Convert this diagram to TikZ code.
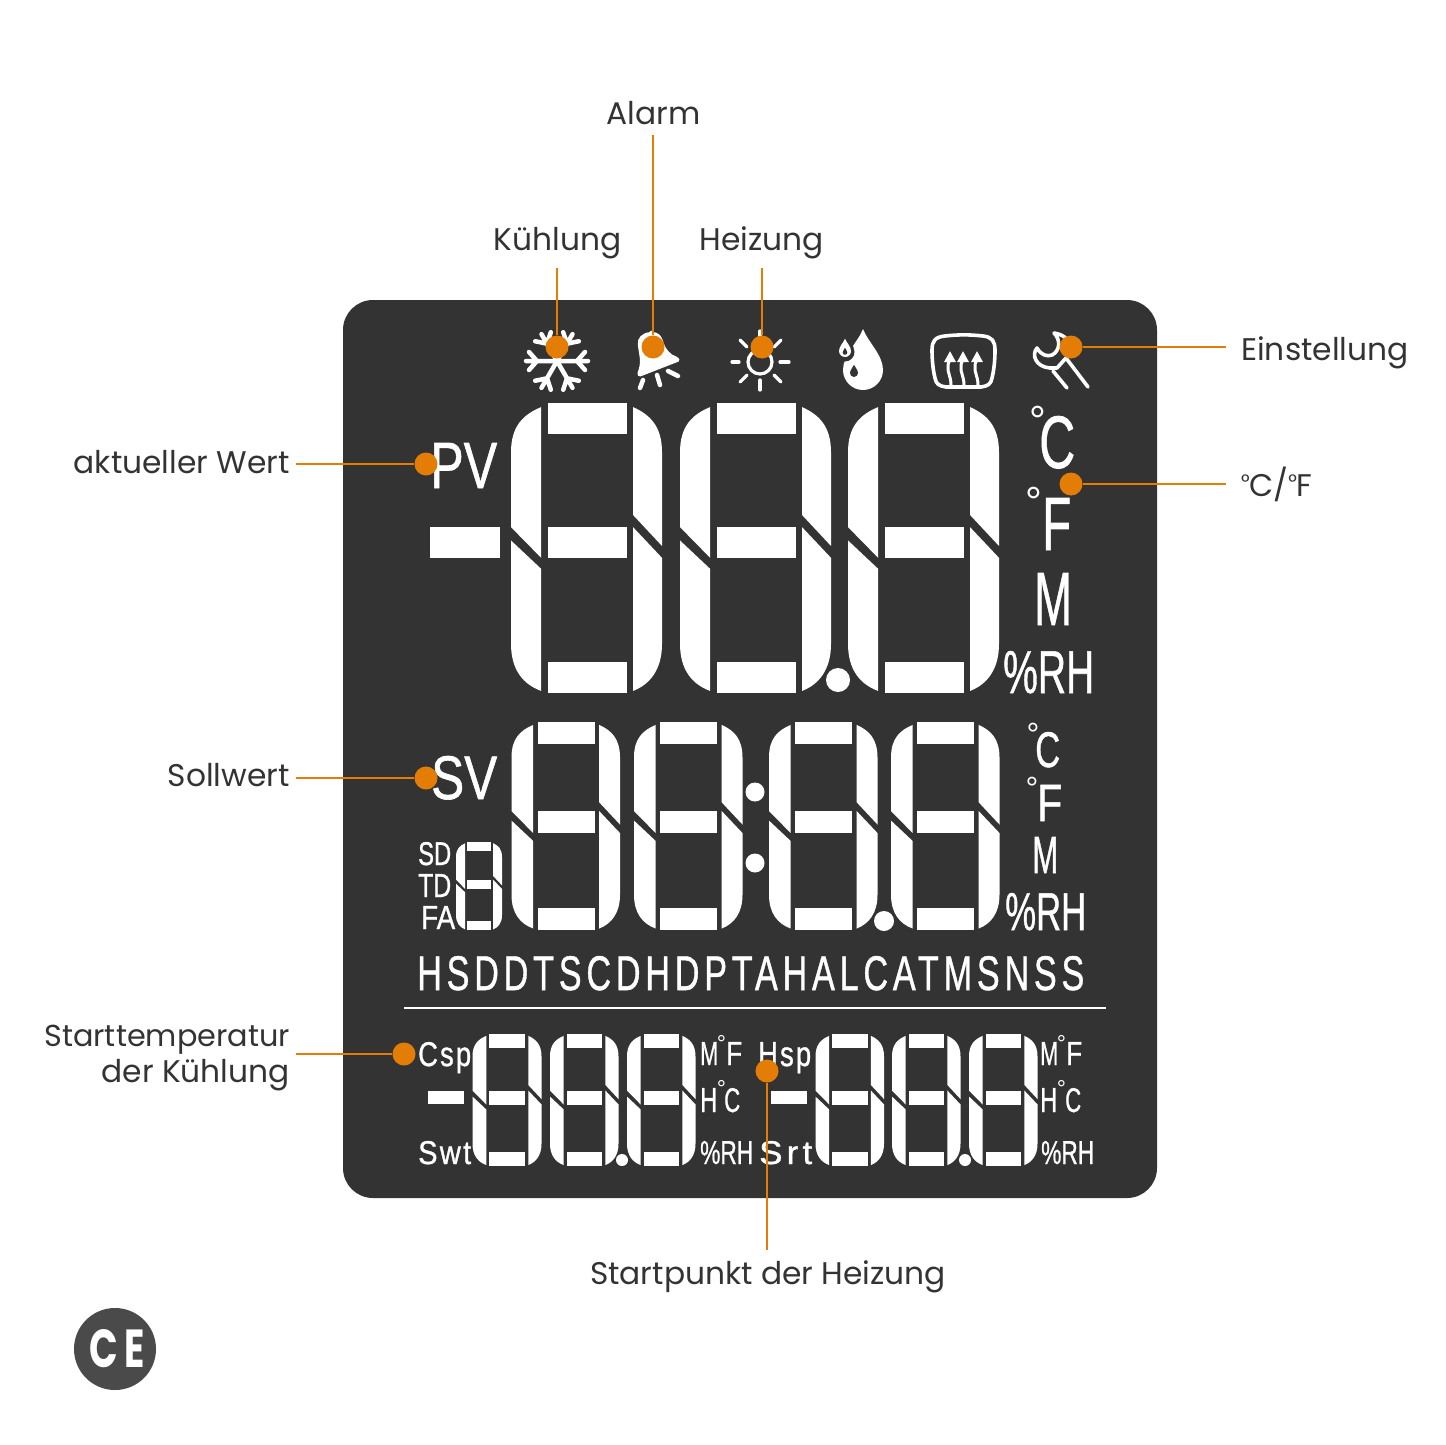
\documentclass[tikz,border=0pt]{standalone}
\usepackage{graphicx}
\usepackage{fontspec}
\usetikzlibrary{arrows.meta,calc,positioning}
\setmainfont{Poppins}
\setsansfont{Liberation Sans}
\definecolor{PanelGray}{HTML}{333333}
\definecolor{CalloutOrange}{HTML}{E37D05}
\definecolor{BadgeGray}{HTML}{4A4A4A}
\newcommand{\lcdtext}[3]{\resizebox{#1pt}{#2pt}{\sffamily\addfontfeature{FakeBold=1}#3}}
\newcommand{\tightdeg}{\raisebox{6.5pt}{\fontsize{21}{21}\selectfont °}\kern-.6pt}
\newcommand{\lcddigit}[4]{%
  \begin{scope}[shift={(#1,#2)},x=#3pt,y=-#4pt]
    \fill[white] (.242,0) rectangle (.765,.107);
    \fill[white] (.242,.428) rectangle (.765,.534);
    \fill[white] (.242,.893) rectangle (.765,1);
    \fill[white] (.2,.014) .. controls (.08,.04) and (0,.08) .. (0,.17) -- (0,.428) -- (.2,.534) -- cycle;
    \fill[white] (0,.474) -- (.2,.572) -- (.2,.993) .. controls (.08,.97) and (0,.92) .. (0,.83) -- cycle;
    \fill[white] (.808,.014) .. controls (.92,.04) and (1,.08) .. (1,.17) -- (1,.493) -- (.808,.386) -- cycle;
    \fill[white] (.808,.428) -- (1,.534) -- (1,.83) .. controls (1,.92) and (.92,.97) .. (.808,.993) -- cycle;
  \end{scope}}
\newcommand{\flakearm}[1]{%
  \draw[iconline,rotate around={#1:(557,361)}] (557,361) -- (588,361) (577,361) -- (585,352) (577,361) -- (585,370);}
\newcommand{\teardrop}[4]{%
  \fill[#4,shift={(#1,#2)},scale=#3] (0,-2.05) .. controls (.25,-1.4) and (1,-.75) .. (1,0) .. controls (1,.55) and (.55,1) .. (0,1) .. controls (-.55,1) and (-1,.55) .. (-1,0) .. controls (-1,-.75) and (-.25,-1.4) .. cycle;}
\tikzset{
  callout/.style={font=\fontsize{31.3}{36}\selectfont,text=PanelGray,inner xsep=6pt,inner ysep=4pt,text height=22pt,text depth=6pt},
  marker/.style={circle,fill=CalloutOrange,inner sep=0pt,minimum size=23pt},
  leader/.style={CalloutOrange,line width=1.5pt},
  lcd/.style={white,anchor=base west,inner sep=0pt},
  ringbig/.style={white,anchor=base,inner sep=0pt,font=\sffamily\fontsize{42}{42}\selectfont},
  ringmid/.style={white,anchor=base,inner sep=0pt,font=\sffamily\fontsize{32}{32}\selectfont},
  ringsmall/.style={white,anchor=base,inner sep=0pt,font=\sffamily\fontsize{23}{23}\selectfont},
  iconline/.style={white,line width=4.5pt,line cap=round,line join=round},
  thinicon/.style={white,line width=3.2pt,line cap=round,line join=round}
}
\begin{document}
\begin{tikzpicture}[x=1pt,y=-1pt]
  \useasboundingbox (0,0) rectangle (1445,1445);
  \fill[PanelGray,rounded corners=30pt] (343,300) rectangle (1157,1198);

  % icon row
  \flakearm{0} \flakearm{60} \flakearm{120} \flakearm{180} \flakearm{240} \flakearm{300}
  \fill[white,rounded corners=1.5pt] (651,332) .. controls (642,333) and (637,338) .. (638,346) .. controls (639,355) and (642,362) .. (637,374) -- (639,377) -- (680,361) -- (678,357) .. controls (670,355) and (665,348) .. (663,341) .. controls (661,335) and (657,332) .. cycle;
  \draw[iconline] (643,380) -- (640,388) (657,375) -- (660,385) (668,371) -- (678,376);
  \draw[thinicon] (760,362) circle (12);
  \draw[thinicon] (732,362) -- (739,362) (780,362) -- (789,362) (760,380) -- (760,390) (760,331) -- (760,343);
  \draw[thinicon] (740,340) -- (747,347) (781,340) -- (774,347) (740,382) -- (747,375) (781,382) -- (774,375);
  \teardrop{863}{370}{20}{white}
  \teardrop{845}{352}{9.5}{PanelGray}
  \teardrop{845}{351}{6}{white}
  \teardrop{845}{352.5}{2.3}{PanelGray}
  \teardrop{854}{373}{4}{PanelGray}
  \draw[thinicon,line width=3.6pt] (945,336) .. controls (958,334.5) and (970,334.5) .. (983,336) .. controls (992,337) and (995,341) .. (995,350) .. controls (995,360) and (994,370) .. (992,378) .. controls (991,384) and (988,386) .. (981,387) -- (946,387) .. controls (939,386) and (936,384) .. (935,378) .. controls (933,370) and (932,360) .. (932,350) .. controls (932,341) and (935,337) .. cycle;
  \draw[white,line width=3pt,-{Triangle[length=11pt,width=11pt]}] (951,385) .. controls (951,376) and (947,372) .. (948,366) .. controls (948,362) and (950,360) .. (950,351);
  \draw[white,line width=3pt,-{Triangle[length=11pt,width=11pt]}] (964,385) .. controls (964,376) and (960,372) .. (961,366) .. controls (961,362) and (963,360) .. (963,351);
  \draw[white,line width=3pt,-{Triangle[length=11pt,width=11pt]}] (978,385) .. controls (978,376) and (974,372) .. (975,366) .. controls (975,362) and (977,360) .. (977,351);
  \draw[thinicon,line width=3.6pt] (1054,333) .. controls (1060,334) and (1064,336) .. (1068,340) (1054,333) .. controls (1061,340) and (1060,351) .. (1052,355) .. controls (1047,357) and (1041,355) .. (1037,348) .. controls (1031,355) and (1036,367) .. (1050,368) -- (1057,368) -- (1066,358) -- (1088,387) (1053,371) -- (1067,388);

  % upper read-out
  \fill[white] (430,527) rectangle (500,558);
  \lcddigit{511}{403}{151}{290}
  \lcddigit{680}{403}{151}{290}
  \lcddigit{848}{403}{151}{290}
  \fill[white] (838,680) circle (12);
  \node[lcd] (pv) at (430,488) {\lcdtext{67}{45}{PV}};
  \node[ringbig] (ringca) at (1038,435) {°};
  \node[lcd] (unitca) at (1039,468) {\lcdtext{36}{52}{C}};
  \node[ringbig] (ringfa) at (1034,516) {°};
  \node[lcd] (unitfa) at (1042,550) {\lcdtext{29}{52}{F}};
  \node[lcd] (unitma) at (1034,625) {\lcdtext{38}{52}{M}};
  \node[lcd] (unitrha) at (1003,693) {\lcdtext{91}{42}{\%RH}};

  % middle read-out
  \lcddigit{511.5}{722}{108.5}{208}
  \lcddigit{634}{722}{108.5}{208}
  \lcddigit{769}{722}{108.5}{208}
  \lcddigit{891}{722}{108.5}{208}
  \lcddigit{456}{842}{46}{88}
  \fill[white] (755,792) circle (9.5);
  \fill[white] (755,863) circle (9.5);
  \fill[white] (884,921) circle (10);
  \node[lcd] (sv) at (431,799) {\lcdtext{66}{43}{SV}};
  \node[lcd] (sd) at (418,865) {\lcdtext{33}{23}{SD}};
  \node[lcd] (td) at (418,897) {\lcdtext{33}{23}{TD}};
  \node[lcd] (fa) at (421,929) {\lcdtext{34}{23}{FA}};
  \node[ringmid] (ringcb) at (1033,745) {°};
  \node[lcd] (unitcb) at (1035,767) {\lcdtext{25}{35}{C}};
  \node[ringmid] (ringfb) at (1032,799) {°};
  \node[lcd] (unitfb) at (1037,821) {\lcdtext{25}{36}{F}};
  \node[lcd] (unitmb) at (1032,873) {\lcdtext{26}{36}{M}};
  \node[lcd] (unitrhb) at (1005,930) {\lcdtext{81}{37}{\%RH}};
  \node[lcd] (modes) at (417,990) {\lcdtext{667}{34}{\addfontfeature{LetterSpace=14}HSDDTSCDHDPTAHALCATMSNSS}};
  \draw[white,line width=1.6pt] (404,1008) -- (1106,1008);

  % lower read-outs
  \fill[white] (428,1091) rectangle (464,1104);
  \lcddigit{472.5}{1034}{69}{132}
  \lcddigit{550}{1034}{68.5}{132}
  \lcddigit{627}{1034}{68.5}{132}
  \fill[white] (622,1160) circle (6);
  \fill[white] (771,1091) rectangle (807,1104);
  \lcddigit{815.5}{1034}{68.5}{132}
  \lcddigit{892}{1034}{68.5}{132}
  \lcddigit{969}{1034}{68.5}{132}
  \fill[white] (965,1160) circle (6);
  \node[lcd] (csp) at (418,1066) {\lcdtext{53}{24}{\addfontfeature{LetterSpace=8}Csp}};
  \node[lcd] (swt) at (418,1164) {\lcdtext{53}{23}{\addfontfeature{LetterSpace=8}Swt}};
  \node[lcd] (hsp) at (758,1066) {\lcdtext{53}{24}{\addfontfeature{LetterSpace=8}Hsp}};
  \node[lcd] (srt) at (759,1164) {\lcdtext{53}{23}{\addfontfeature{LetterSpace=12}Srt}};
  \node[lcd] (leftm) at (700,1065) {\lcdtext{18}{23}{M}};
  \node[ringsmall] (leftringf) at (721.5,1051) {°};
  \node[lcd] (leftf) at (726,1065) {\lcdtext{16}{23}{F}};
  \node[lcd] (lefth) at (700,1112) {\lcdtext{17}{24}{H}};
  \node[ringsmall] (leftringc) at (721.5,1096) {°};
  \node[lcd] (leftc) at (724,1112) {\lcdtext{16}{24}{C}};
  \node[lcd] (leftrh) at (700,1164) {\lcdtext{53}{23}{\%RH}};
  \node[lcd] (rightm) at (1040,1065) {\lcdtext{18}{23}{M}};
  \node[ringsmall] (rightringf) at (1061.5,1051) {°};
  \node[lcd] (rightf) at (1066,1065) {\lcdtext{16}{23}{F}};
  \node[lcd] (righth) at (1040,1112) {\lcdtext{17}{24}{H}};
  \node[ringsmall] (rightringc) at (1061.5,1096) {°};
  \node[lcd] (rightc) at (1065,1112) {\lcdtext{16}{24}{C}};
  \node[lcd] (rightrh) at (1041,1164) {\lcdtext{53}{23}{\%RH}};

  % callouts
  \node[callout,inner ysep=5pt] (alarm) at (653.5,116) {Alarm};
  \node[callout,inner ysep=12pt] (kuehlung) at (557.5,242) {Kühlung};
  \node[callout,inner ysep=12pt] (heizung) at (762,242) {Heizung};
  \node[callout,anchor=west,inner xsep=15pt] (einstellung) at (1226,352) {Einstellung};
  \node[callout,anchor=west,inner xsep=15pt] (celsius) at (1226,488) {\tightdeg C/\tightdeg F};
  \node[callout,anchor=east] (aktuell) at (296,465) {aktueller Wert};
  \node[callout,anchor=east] (sollwert) at (296,778) {Sollwert};
  \node[anchor=east,align=right,font=\fontsize{31.3}{36}\selectfont,text=PanelGray,inner xsep=6pt] (starttemp) at (296,1058) {{\fontsize{30.3}{36}\selectfont Starttemperatur}\\der Kühlung};
  \node[callout,inner ysep=12pt] (startpunkt) at (768,1276) {Startpunkt der Heizung};

  \node[marker] (kuehlungdot) at (557,347) {};
  \node[marker] (alarmdot) at (653,347) {};
  \node[marker] (heizungdot) at (762,347) {};
  \node[marker] (einstellungdot) at (1071,347) {};
  \node[marker] (celsiusdot) at (1071,484) {};
  \node[marker] (pvdot) at (426,464) {};
  \node[marker] (svdot) at (426,778) {};
  \node[marker] (cspdot) at (404,1054) {};
  \node[marker] (hspdot) at (767,1071) {};

  \draw[leader] (alarmdot) -- (alarmdot |- alarm.south);
  \draw[leader] (kuehlungdot) -- (kuehlungdot |- kuehlung.south);
  \draw[leader] (heizungdot) -- (heizungdot |- heizung.south);
  \draw[leader] (einstellungdot) -- (einstellungdot -| einstellung.west);
  \draw[leader] (celsiusdot) -- (celsiusdot -| celsius.west);
  \draw[leader] (pvdot) -- (pvdot -| aktuell.east);
  \draw[leader] (svdot) -- (svdot -| sollwert.east);
  \draw[leader] (cspdot) -- (cspdot -| starttemp.east);
  \draw[leader] (hspdot) -- (hspdot |- startpunkt.north);

  % CE badge
  \node[circle,fill=BadgeGray,inner sep=0pt,minimum size=82pt] (badge) at (115,1349) {};
  \node[white,inner sep=0pt] (cemark) at (117,1349) {\resizebox{55pt}{38pt}{\addfontfeature{LetterSpace=16}\bfseries CE}};
\end{tikzpicture}
\end{document}
